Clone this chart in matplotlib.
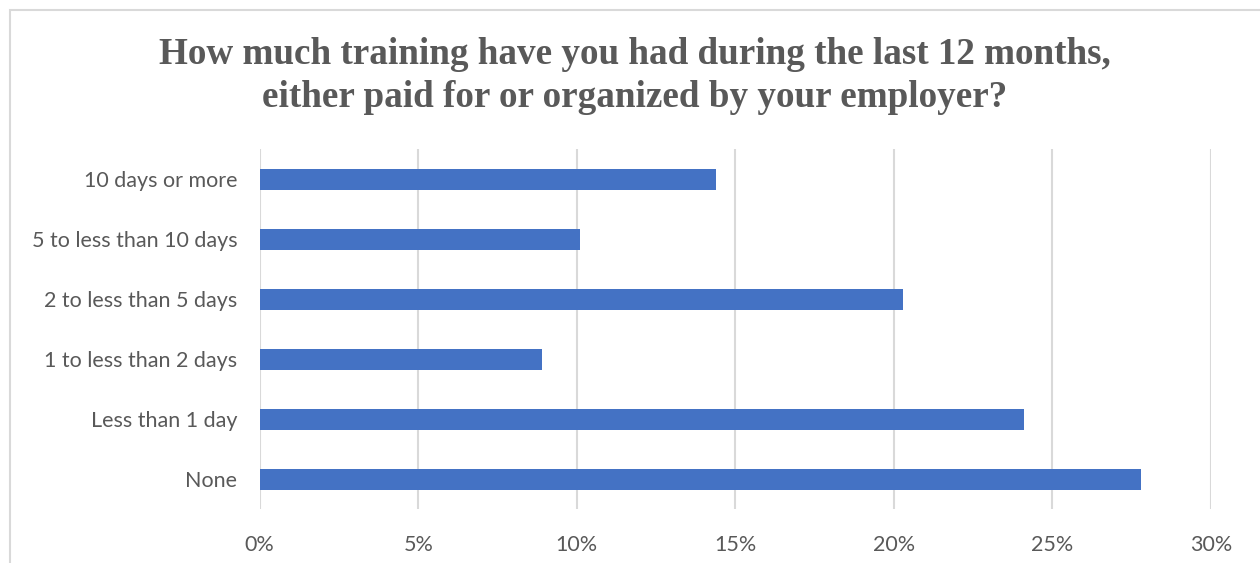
import matplotlib.pyplot as plt
from matplotlib.patches import Rectangle
from matplotlib.ticker import FuncFormatter

categories = [
    "None",
    "Less than 1 day",
    "1 to less than 2 days",
    "2 to less than 5 days",
    "5 to less than 10 days",
    "10 days or more",
]
shares = [27.8, 24.1, 8.9, 20.3, 10.1, 14.4]
xticks = [0, 5, 10, 15, 20, 25, 30]

W, H = 1260, 563
fig = plt.figure(figsize=(W / 100, H / 100), dpi=100)

# chart-area border, cut off at the right and bottom
fig.patches.append(Rectangle((10 / W, -0.1), 1.2, 1.1 - 10 / H, transform=fig.transFigure,
                             fill=False, edgecolor="#d9d9d9", linewidth=1.5))

left, right = 259.7 / W, 1211 / W
bottom, top = 1 - 509 / H, 1 - 149 / H
ax = fig.add_axes([left, bottom, right - left, top - bottom])

y = range(len(categories))
ax.barh(y, shares, height=0.35, color="#4472c4", zorder=3)

ax.set_xlim(0, 30)
ax.set_ylim(-0.5, len(categories) - 0.5)
ax.set_xticks(xticks)
ax.xaxis.set_major_formatter(FuncFormatter(lambda v, _: f"{v:.0f}%"))
ax.set_yticks(list(y))
ax.set_yticklabels(categories)
ax.grid(axis="x", color="#d9d9d9", linewidth=1.5, zorder=0)
ax.tick_params(length=0, labelsize=15.5, labelcolor="#595959")
ax.tick_params(axis="y", pad=16)
ax.tick_params(axis="x", pad=19)
for lbl in ax.get_xticklabels() + ax.get_yticklabels():
    lbl.set_fontfamily("Lato")
for s in ax.spines.values():
    s.set_visible(False)

fig.text(0.5 + 5 / W, 1 - 76 / H,
         "How much training have you had during the last 12 months,\n"
         "either paid for or organized by your employer?",
         ha="center", va="center", fontsize=26.7, fontweight="bold",
         family="Liberation Serif", color="#595959", linespacing=1.28)

fig.savefig("out.png", dpi=100)
